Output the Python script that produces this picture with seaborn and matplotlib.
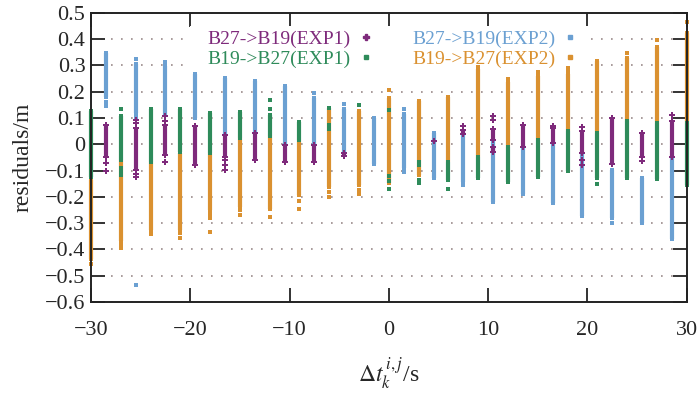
import numpy as np
import pandas as pd
import matplotlib
matplotlib.use("Agg")
import matplotlib.pyplot as plt
from matplotlib.lines import Line2D
from matplotlib.patches import Rectangle
import seaborn as sns

# column ranges (visible part of each stripe)
purple_x = [-28.5, -25.5, -22.5, -19.5, -16.5, -13.5, -10.5, -7.5, -4.5, 7.5,
            10.5, 10.5, 13.5, 16.5, 19.5, 22.5, 25.5, 28.5]
purple_hi = [0.074, 0.061, 0.074, 0.070, 0.036, 0.042, -0.003, -0.003, -0.035, 0.055,
             0.059, -0.010, 0.074, 0.062, 0.049, 0.100, 0.042, 0.087]
purple_lo = [-0.047, -0.098, -0.041, -0.079, -0.047, -0.060, -0.066, -0.066, -0.045, 0.040,
             0.017, -0.028, -0.009, 0.004, -0.034, -0.075, -0.047, -0.047]
purple_ex_x = [-28.5, -28.5, -25.5, -25.5, -25.5, -25.5, -22.5, -22.5, -22.5, -16.5, -16.5,
               -16.5, 4.5, 7.5, 10.5, 10.5, 16.5, 19.5, 19.5, 19.5, 25.5, 28.5]
purple_ex_y = [-0.073, -0.100, 0.093, 0.080, -0.112, -0.124, 0.106, 0.090, -0.068, -0.060, -0.078,
               -0.098, 0.013, 0.068, 0.108, 0.093, 0.070, 0.065, -0.060, -0.080, -0.063, 0.112]

blue_x = [-28.5, -25.5, -22.5, -19.5, -16.5, -13.5, -10.5, -7.5, -4.5, -1.5,
          1.5, 4.5, 7.5, 10.5, 13.5, 16.5, 19.5, 22.5, 25.5, 28.5]
blue_hi = [0.349, 0.304, 0.298, 0.266, 0.253, 0.240, 0.221, 0.176, 0.135, 0.100,
           0.116, 0.042, 0.040, 0.017, -0.009, 0.004, -0.034, -0.098, -0.130, -0.047]
blue_lo = [0.180, 0.119, 0.112, 0.100, 0.036, 0.042, -0.003, -0.003, -0.035, -0.075,
           -0.092, -0.130, -0.143, -0.220, -0.188, -0.223, -0.275, -0.280, -0.300, -0.360]
blue_ex_x = [-28.5, -28.5, -25.5, -25.5, -25.5, -22.5, -7.5, -4.5, 1.5, 1.5, 7.5, 22.5]
blue_ex_y = [0.160, 0.144, 0.326, 0.103, -0.535, 0.314, 0.195, 0.153, 0.135, -0.107, -0.156, -0.300]

green_x = [-30, -27, -24, -21, -18, -15, -12, -9, 6, 9, 12, 15, 18, 21, 24, 27, 30]
green_hi = [0.125, 0.106, 0.134, 0.134, 0.119, 0.121, 0.112, 0.083, -0.066, -0.047,
            -0.011, 0.017, 0.049, 0.042, 0.087, 0.080, 0.080]
green_lo = [-0.124, -0.060, -0.066, -0.030, -0.034, 0.023, 0.030, 0.017, -0.137, -0.130,
            -0.143, -0.124, -0.102, -0.130, -0.130, -0.134, -0.156]
green_ex_x = [-27, -27, -27, -27, -12, -12, -6, -6, -6, -3, 0, 0, 0, 0, 3, 3, 3, 3, 6, 21]
green_ex_y = [0.135, -0.090, -0.105, -0.117, 0.167, 0.135, 0.138, 0.074, 0.060, 0.148, 0.132,
              -0.120, -0.140, -0.171, -0.066, -0.080, -0.135, -0.149, -0.171, -0.152]

orange_x = [-30, -27, -24, -21, -18, -15, -12, -9, -6, -3, 0, 3, 6, 9, 12, 15, 18, 21, 24, 27, 30]
orange_hi = [-0.137, -0.060, -0.066, -0.035, -0.034, 0.023, 0.030, 0.017, 0.138, 0.125, 0.176,
             0.163, 0.180, 0.285, 0.236, 0.259, 0.266, 0.317, 0.330, 0.370, 0.425]
orange_lo = [-0.437, -0.367, -0.328, -0.325, -0.250, -0.239, -0.245, -0.194, -0.162, -0.156, -0.149,
             -0.117, -0.066, -0.047, -0.011, 0.017, 0.049, 0.042, 0.087, 0.080, 0.080]
orange_ex_x = [-30, -27, -27, -24, -21, -21, -18, -18, -18, -15, -15, -12, -9, -9, -6, -6,
               -3, -3, 0, 9, 12, 15, 18, 18, 24, 27, 30]
orange_ex_y = [-0.456, -0.380, -0.395, -0.341, -0.337, -0.356, -0.265, -0.280, -0.335, -0.252, -0.270,
               -0.277, -0.217, -0.245, -0.181, -0.200, -0.175, -0.188, 0.206, 0.295, 0.250, 0.276,
               0.290, 0.280, 0.349, 0.397, 0.464]

labels = ["B27->B19(EXP1)", "B19->B27(EXP1)", "B27->B19(EXP2)", "B19->B27(EXP2)"]
x_ticks = [-30, -20, -10, 0, 10, 20, 30]
y_ticks = [-0.6, -0.5, -0.4, -0.3, -0.2, -0.1, 0, 0.1, 0.2, 0.3, 0.4, 0.5]

sns.set_style("ticks")
plt.rcParams["font.family"] = ["Liberation Serif", "DejaVu Serif"]
plt.rcParams["mathtext.fontset"] = "stix"

colors = {"purple": "#7E2A7B", "green": "#2E8B5A", "blue": "#6BA0D2", "orange": "#DA9130"}

series = [
    # name, x, hi, lo, extra x, extra y, marker, zorder
    ("blue", blue_x, blue_hi, blue_lo, blue_ex_x, blue_ex_y, "s", 3),
    ("orange", orange_x, orange_hi, orange_lo, orange_ex_x, orange_ex_y, "s", 4),
    ("purple", purple_x, purple_hi, purple_lo, purple_ex_x, purple_ex_y, "P", 5),
    ("green", green_x, green_hi, green_lo, green_ex_x, green_ex_y, "s", 6),
]

fig, ax = plt.subplots(figsize=(7, 3.93), dpi=100)
fig.subplots_adjust(left=0.13, right=0.981, top=0.967, bottom=0.232)

for name, xs, hi, lo, ex_x, ex_y, mk, z in series:
    c = colors[name]
    ax.vlines(xs, lo, hi, colors=c, linewidth=3.0, zorder=z, clip_on=False)
    pts = pd.DataFrame({
        "x": list(xs) + list(xs) + list(ex_x),
        "y": list(hi) + list(lo) + list(ex_y),
    })
    sns.scatterplot(data=pts, x="x", y="y", ax=ax, color=c, marker=mk,
                    s=11 if mk == "s" else 16, linewidth=0, zorder=z,
                    clip_on=False, legend=False)

ax.set_xlim(-30, 30)
ax.set_ylim(-0.6, 0.5)
ax.set_xticks(x_ticks)
ax.set_xticklabels([str(t).replace("-", "\u2212") for t in x_ticks])
ax.set_yticks(y_ticks)
ax.set_yticklabels(["0" if t == 0 else f"{t:.1f}".replace("-", "\u2212") for t in y_ticks])
ax.tick_params(direction="in", length=10, width=1.4, color="#333333",
               top=True, right=True, labelsize=16, pad=4)
ax.tick_params(axis="x", pad=14)
for sp in ax.spines.values():
    sp.set_linewidth(1.4)
    sp.set_color("#222222")
    sp.set_zorder(10)

ax.set_axisbelow(True)
ax.yaxis.grid(True, linestyle=(0, (1, 5)), linewidth=1.2, color="#9a8a8a")
ax.xaxis.grid(False)

# opaque key box behind the data
ax.add_patch(Rectangle((0.166, 0.80), 0.671, 0.155, transform=ax.transAxes,
                       facecolor="white", edgecolor="none", zorder=1))

handles = [
    Line2D([], [], linestyle="none", marker="P", markersize=4, color=colors["purple"]),
    Line2D([], [], linestyle="none", marker="s", markersize=3.2, color=colors["green"]),
    Line2D([], [], linestyle="none", marker="s", markersize=3.2, color=colors["blue"]),
    Line2D([], [], linestyle="none", marker="s", markersize=3.2, color=colors["orange"]),
]
leg = ax.legend(handles, labels, ncol=2, loc="upper center", bbox_to_anchor=(0.505, 0.975),
                frameon=False, markerfirst=False, handlelength=0.6, handletextpad=0.45,
                columnspacing=2.1, labelspacing=0.15, fontsize=14, borderpad=0)
for txt, key in zip(leg.get_texts(), ["purple", "green", "blue", "orange"]):
    txt.set_color(colors[key])

ax.set_ylabel("residuals/m", fontsize=17, labelpad=8)
ax.set_xlabel(r"$\Delta t_k^{\,i,j}$/s", fontsize=17, labelpad=11)

fig.savefig("out.png", dpi=100)
